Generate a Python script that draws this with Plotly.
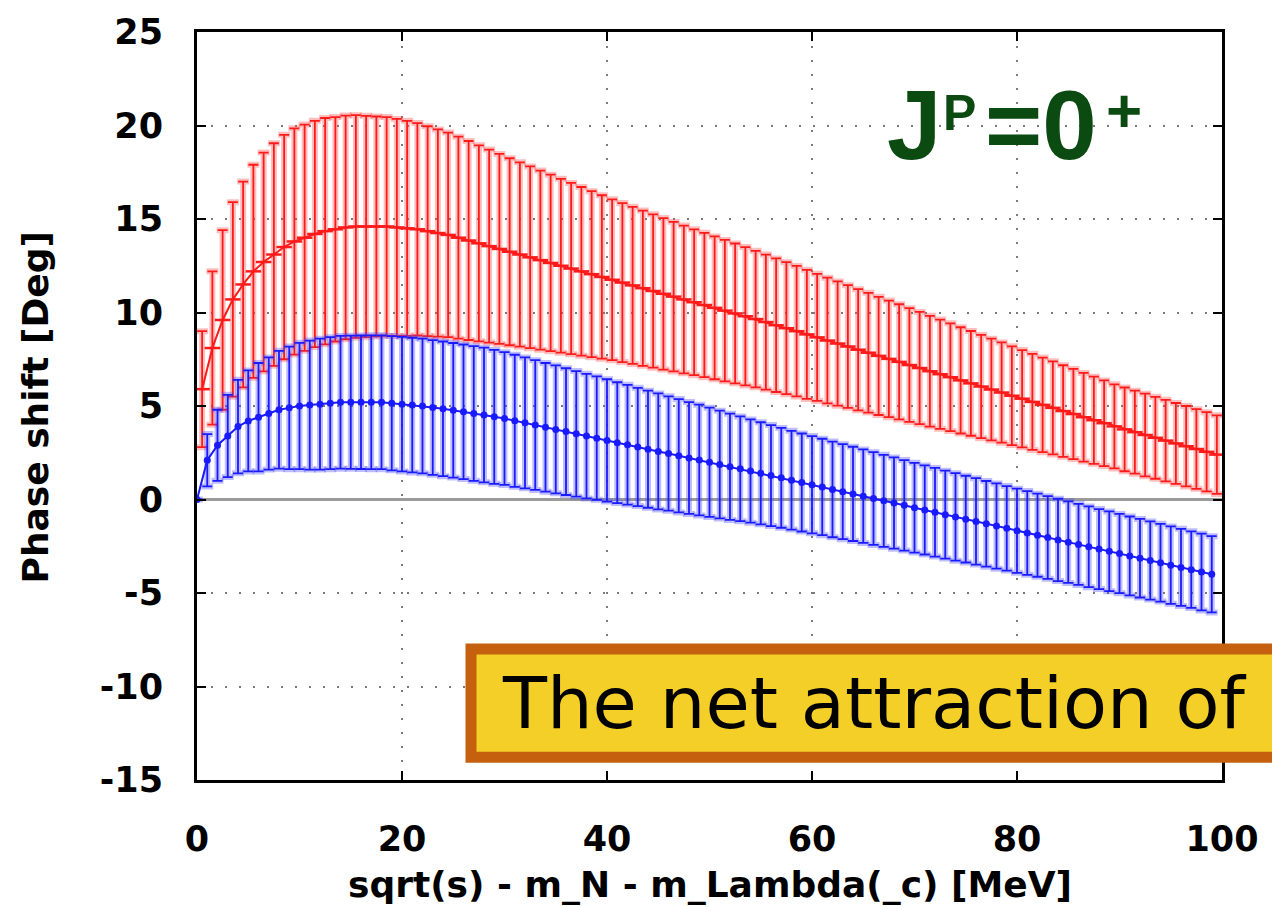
import numpy as np
import plotly.graph_objects as go

# Energy grids [MeV]
energy_red = np.arange(100) + 0.5
energy_blue = np.arange(100)

# Red series: phase shift [deg] and its error
phase_red = [
    5.9, 8.1, 9.6, 10.7, 11.5, 12.2, 12.7, 13.1, 13.5, 13.8,
    14.0, 14.2, 14.35, 14.45, 14.55, 14.6, 14.6, 14.6, 14.6, 14.55,
    14.5, 14.45, 14.35, 14.25, 14.15, 14.0, 13.85, 13.7, 13.55, 13.4,
    13.25, 13.1, 12.95, 12.8, 12.65, 12.5, 12.35, 12.2, 12.05, 11.9,
    11.75, 11.6, 11.45, 11.3, 11.15, 11.0, 10.85, 10.7, 10.55, 10.4,
    10.25, 10.1, 9.95, 9.8, 9.65, 9.49, 9.32, 9.16, 9.0, 8.83,
    8.67, 8.5, 8.34, 8.18, 8.01, 7.85, 7.68, 7.52, 7.36, 7.19,
    7.03, 6.86, 6.7, 6.54, 6.37, 6.21, 6.04, 5.88, 5.72, 5.55,
    5.39, 5.22, 5.06, 4.9, 4.73, 4.57, 4.4, 4.24, 4.08, 3.91,
    3.75, 3.6, 3.45, 3.3, 3.15, 3.0, 2.85, 2.7, 2.55, 2.4,
]
err_red = [
    3.1, 4.1, 4.8, 5.2, 5.5, 5.7, 5.85, 5.95, 6.0, 6.05,
    6.05, 6.05, 6.05, 6.0, 5.98, 5.95, 5.92, 5.88, 5.85, 5.8,
    5.75, 5.68, 5.61, 5.54, 5.47, 5.4, 5.32, 5.24, 5.16, 5.08,
    5.0, 4.93, 4.86, 4.79, 4.72, 4.65, 4.58, 4.51, 4.44, 4.37,
    4.3, 4.25, 4.2, 4.15, 4.1, 4.05, 4.0, 3.95, 3.9, 3.86,
    3.82, 3.78, 3.74, 3.7, 3.65, 3.61, 3.57, 3.53, 3.49, 3.45,
    3.4, 3.36, 3.32, 3.28, 3.24, 3.2, 3.16, 3.12, 3.08, 3.04,
    3.0, 2.96, 2.92, 2.88, 2.84, 2.8, 2.76, 2.72, 2.68, 2.64,
    2.6, 2.57, 2.53, 2.49, 2.45, 2.41, 2.37, 2.33, 2.29, 2.25,
    2.24, 2.22, 2.21, 2.19, 2.18, 2.16, 2.15, 2.13, 2.12, 2.1,
]

# Blue series: phase shift [deg] and its error
phase_blue = [
    0.0, 2.1, 2.9, 3.4, 3.9, 4.2, 4.4, 4.6, 4.8, 4.9,
    5.0, 5.05, 5.1, 5.15, 5.2, 5.2, 5.2, 5.2, 5.2, 5.15,
    5.1, 5.05, 5.0, 4.92, 4.85, 4.77, 4.69, 4.6, 4.52, 4.42,
    4.33, 4.21, 4.1, 3.98, 3.86, 3.75, 3.63, 3.51, 3.39, 3.28,
    3.16, 3.04, 2.93, 2.81, 2.69, 2.57, 2.46, 2.34, 2.22, 2.11,
    1.99, 1.87, 1.75, 1.64, 1.52, 1.4, 1.28, 1.16, 1.03, 0.91,
    0.79, 0.67, 0.54, 0.42, 0.3, 0.18, 0.05, -0.07, -0.19, -0.31,
    -0.44, -0.56, -0.68, -0.81, -0.93, -1.05, -1.17, -1.3, -1.42, -1.54,
    -1.67, -1.79, -1.91, -2.03, -2.16, -2.28, -2.4, -2.53, -2.65, -2.77,
    -2.89, -3.02, -3.14, -3.26, -3.38, -3.51, -3.63, -3.75, -3.88, -4.0,
]
err_blue = [
    0.0, 1.4, 1.9, 2.2, 2.5, 2.7, 2.9, 3.0, 3.15, 3.28,
    3.38, 3.45, 3.5, 3.53, 3.55, 3.56, 3.57, 3.58, 3.58, 3.59,
    3.6, 3.6, 3.6, 3.6, 3.6, 3.6, 3.6, 3.6, 3.6, 3.58,
    3.55, 3.53, 3.5, 3.47, 3.44, 3.42, 3.39, 3.36, 3.33, 3.3,
    3.27, 3.23, 3.2, 3.16, 3.13, 3.1, 3.06, 3.03, 2.99, 2.96,
    2.92, 2.88, 2.84, 2.8, 2.76, 2.73, 2.7, 2.67, 2.64, 2.62,
    2.6, 2.58, 2.56, 2.54, 2.52, 2.5, 2.48, 2.46, 2.44, 2.42,
    2.4, 2.38, 2.37, 2.35, 2.34, 2.32, 2.31, 2.29, 2.28, 2.26,
    2.25, 2.24, 2.22, 2.21, 2.2, 2.18, 2.17, 2.16, 2.14, 2.13,
    2.12, 2.11, 2.1, 2.09, 2.08, 2.07, 2.06, 2.05, 2.05, 2.04,
]

x_ticks = [0, 20, 40, 60, 80, 100]
y_ticks = [-15, -10, -5, 0, 5, 10, 15, 20, 25]
y_tick_text = ["-15", "-10", "-5", "0", "5", "10", "15", "20", "25"]

fig = go.Figure()


def add_series(x, y, err, core, halo, marker):
    # soft wide halo under each error bar
    fig.add_trace(go.Scatter(
        x=x, y=y, mode="none", hoverinfo="skip",
        error_y=dict(type="data", array=err, visible=True,
                     color=halo, thickness=6, width=6),
    ))
    fig.add_trace(go.Scatter(
        x=x, y=y, mode="lines+markers",
        line=dict(color=core, width=2),
        marker=marker,
        error_y=dict(type="data", array=err, visible=True,
                     color=core, thickness=1.8, width=5),
    ))


add_series(energy_red, phase_red, err_red, "#ff1a1a", "rgba(255,70,70,0.35)",
           dict(symbol="line-ew", size=11, line=dict(color="#ff1a1a", width=2.5)))
add_series(energy_blue, phase_blue, err_blue, "#1a1aff", "rgba(70,70,255,0.35)",
           dict(symbol="circle", size=7, color="#1a1aff"))

grid = dict(showgrid=True, gridcolor="#7a7a7a", gridwidth=1.5, griddash="2px,12px")
axis_common = dict(showline=True, linecolor="black", linewidth=3, mirror="ticks",
                   ticks="inside", ticklen=9, tickwidth=2, tickcolor="black")

fig.update_xaxes(range=[0, 100], tickvals=x_ticks, zeroline=False,
                 ticklabelstandoff=26, **grid, **axis_common)
fig.update_yaxes(range=[-15, 25], tickvals=y_ticks, ticktext=y_tick_text,
                 zeroline=True, zerolinecolor="#9a9a9a", zerolinewidth=3,
                 ticklabelstandoff=24, **grid, **axis_common)

L, R, T, B = 197, 1222, 27, 780


def px(xp):
    return (xp - L) / (R - L)


def py(yp):
    return (B - yp) / (B - T)


axis_font = dict(family="DejaVu Sans", size=36, color="black", weight="bold")
green = "#0b4a10"

annotations = [
    dict(text="Phase shift [Deg]", x=px(35), y=py(405), textangle=-90,
         xanchor="center", yanchor="middle", font=axis_font),
    dict(text="sqrt(s) - m_N - m_Lambda(_c) [MeV]", x=px(710), y=py(885),
         xanchor="center", yanchor="middle", font=axis_font),
    # J^P = 0^+ label
    dict(text="J", x=px(885), y=py(121), xanchor="left", yanchor="middle",
         font=dict(family="Liberation Sans", size=98, color=green, weight="bold")),
    dict(text="P", x=px(941), y=py(109), xanchor="left", yanchor="middle",
         font=dict(family="Liberation Sans", size=50, color=green, weight="bold")),
    dict(text="=0", x=px(983), y=py(121), xanchor="left", yanchor="middle",
         font=dict(family="Liberation Sans", size=98, color=green, weight="bold")),
    dict(text="+", x=px(1104), y=py(106), xanchor="left", yanchor="middle",
         font=dict(family="Liberation Sans", size=62, color=green, weight="bold")),
    dict(text="The net attraction of", x=px(500), y=py(702), xanchor="left",
         yanchor="middle",
         font=dict(family="DejaVu Sans", size=72, color="black", weight="normal")),
]
for a in annotations:
    a.update(xref="paper", yref="paper", showarrow=False)

fig.update_layout(
    width=1272, height=907,
    margin=dict(l=L, r=1272 - R, t=T, b=907 - B),
    plot_bgcolor="white", paper_bgcolor="white",
    showlegend=False,
    font=dict(family="DejaVu Sans", size=35, color="black", weight="bold"),
    annotations=annotations,
    shapes=[dict(type="rect", xref="paper", yref="paper",
                 x0=px(471), x1=px(1290), y0=py(757), y1=py(648),
                 fillcolor="#f4cf27", line=dict(color="#c4600e", width=11),
                 layer="above")],
)

fig.write_html("out.html")
